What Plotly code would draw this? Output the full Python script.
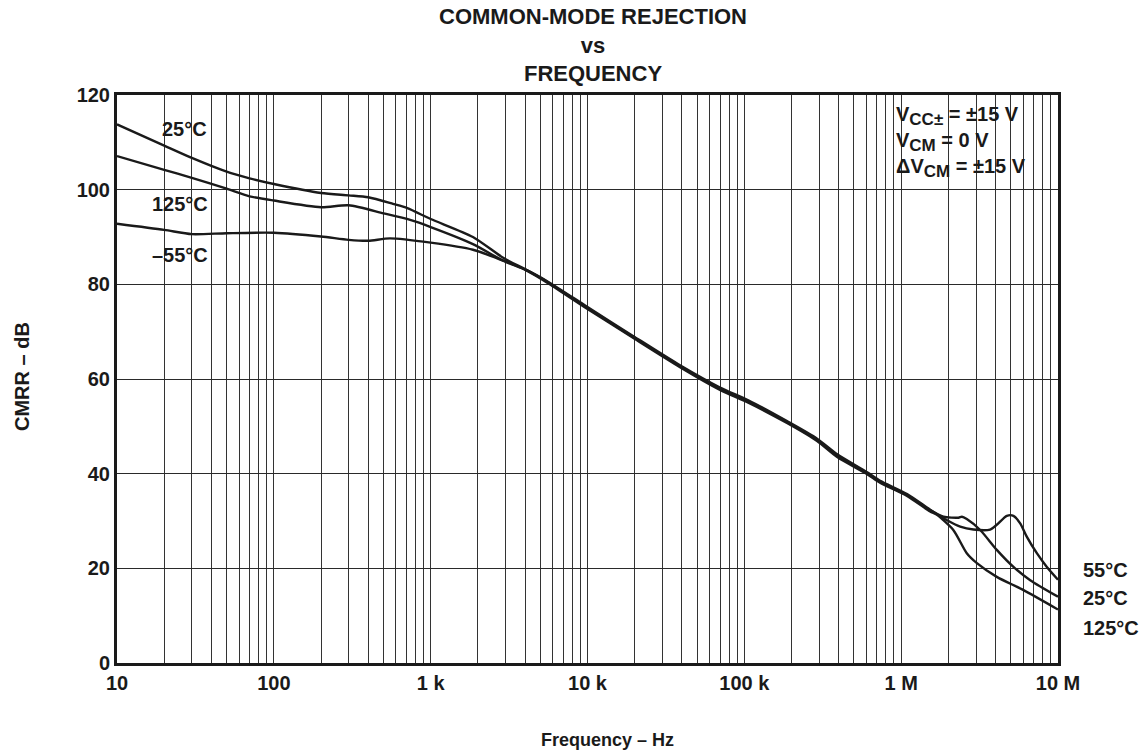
import plotly.graph_objects as go

# ---------------- data ----------------
freq_25 = [10, 20, 30, 50, 70, 100, 200, 300, 400, 575, 710, 1000, 1860, 2900, 4100, 5700,
           10000, 19500, 38900, 70000, 106000, 187000, 291000, 391000, 607000, 734000,
           1090000, 1530000, 1860000, 2320000, 2440000, 2620000, 3190000, 4070000, 5200000,
           6650000, 10000000]
cmrr_25 = [113.8, 109.3, 106.7, 103.8, 102.4, 101.2, 99.3, 98.8, 98.4, 97.0, 96.1, 93.8, 90.0, 85.6, 83.0, 80.3,
           75.0, 68.9, 62.7, 58.0, 55.3, 50.9, 47.1, 43.9, 40.1, 38.3,
           35.5, 32.3, 30.9, 30.7, 30.9, 30.4, 28.1, 23.9, 20.3,
           17.5, 14.0]

freq_125 = [10, 20, 30, 50, 70, 100, 200, 300, 500, 740, 1000, 1860, 2900, 4100, 5700,
            10000, 19500, 38900, 70000, 106000, 187000, 291000, 391000, 607000, 734000,
            1090000, 1530000, 1690000, 2150000, 2620000, 3040000, 4070000, 6030000, 10000000]
cmrr_125 = [107.1, 104.2, 102.5, 100.2, 98.6, 97.7, 96.3, 96.7, 95.0, 93.6, 92.1, 88.5, 85.0, 82.9, 80.1,
            74.8, 68.7, 62.5, 57.7, 55.0, 50.7, 46.9, 43.5, 39.9, 38.1,
            35.3, 32.0, 31.3, 28.1, 23.2, 21.1, 18.2, 15.4, 11.3]

freq_m55 = [10, 20, 30, 50, 100, 200, 300, 400, 550, 1000, 1860, 2900, 4100, 5700,
            10000, 19500, 38900, 70000, 106000, 187000, 291000, 391000, 607000, 734000,
            1090000, 1530000, 1950000, 2380000, 2890000, 3690000, 4070000, 4720000, 5200000,
            5740000, 6320000, 7330000, 8490000, 10000000]
cmrr_m55 = [92.8, 91.5, 90.6, 90.8, 90.9, 90.1, 89.4, 89.2, 89.7, 88.8, 87.3, 85.0, 83.0, 80.4,
            75.2, 69.1, 62.9, 58.2, 55.5, 51.1, 47.4, 44.1, 40.3, 38.5,
            35.7, 32.4, 30.2, 28.8, 28.2, 28.2, 29.2, 31.1, 31.1,
            29.5, 26.7, 23.2, 20.3, 17.6]

decade_vals = [10, 100, 1000, 10000, 100000, 1000000, 10000000]
decade_text = ["10", "100", "1 k", "10 k", "100 k", "1 M", "10 M"]
y_ticks = [0, 20, 40, 60, 80, 100, 120]

title_lines = ["COMMON-MODE REJECTION", "vs", "FREQUENCY"]
x_title = "Frequency – Hz"
y_title = "CMRR – dB"
SUB = '<sub><span style="font-size:17px">{}</span></sub>'
cond_lines = ["V" + SUB.format("CC±") + " = ±15 V",
              "V" + SUB.format("CM") + " = 0 V",
              "ΔV" + SUB.format("CM") + " = ±15 V"]

# ---------------- figure ----------------
FONT = "Liberation Sans, Arial, Helvetica, sans-serif"

# minor gridlines: every 2..9 multiple of each decade
minor_vals = [d * m for d in decade_vals[:-1] for m in range(2, 10)]

fig = go.Figure()
for f, c, name in [(freq_25, cmrr_25, "25°C"), (freq_125, cmrr_125, "125°C"), (freq_m55, cmrr_m55, "–55°C")]:
    fig.add_trace(go.Scatter(x=f, y=c, mode="lines", name=name,
                             line=dict(color="#1a1a1a", width=2.4, shape="spline", smoothing=0.7),
                             showlegend=False, hoverinfo="skip"))

W, H = 1147, 755
L, R, T, B = 117, 89, 95, 92
PW, PH = W - L - R, H - T - B
fig.update_layout(
    width=W, height=H,
    margin=dict(l=L, r=R, t=T, b=B),
    paper_bgcolor="white", plot_bgcolor="white",
    font=dict(family=FONT, color="#1a1a1a"),
    title=dict(text="<b>" + "<br>".join(title_lines) + "</b>",
               x=593 / W, xref="container", xanchor="center",
               y=1 - 24 / H, yref="container", yanchor="middle",
               font=dict(size=22, family=FONT, color="#1a1a1a")),
    xaxis=dict(type="log", range=[1, 7], tickvals=decade_vals, ticktext=decade_text,
               showgrid=True, gridcolor="#333333", gridwidth=1,
               minor=dict(tickvals=minor_vals, showgrid=True, gridcolor="#333333", gridwidth=1, ticks=""),
               showline=True, linecolor="#1a1a1a", linewidth=3, mirror=True,
               ticks="", tickfont=dict(size=20, family=FONT, weight="bold"),
               zeroline=False),
    yaxis=dict(range=[0, 120], tickvals=y_ticks,
               showgrid=True, gridcolor="#2a2a2a", gridwidth=1,
               showline=True, linecolor="#1a1a1a", linewidth=3, mirror=True,
               ticks="", tickfont=dict(size=20, family=FONT, weight="bold"),
               zeroline=False),
)

def px_x(px):
    return (px - L) / PW

def px_y(py):
    return (H - B - py) / PH

# white boxes (between grid and curves) that hide the grid behind labels
boxes = [(880, 1058, 95, 187),   # test conditions
         (150, 230, 113, 146),   # 25°C
         (136, 226, 189, 218),   # 125°C
         (140, 222, 241, 270)]   # -55°C
for x0, x1, y0, y1 in boxes:
    fig.add_shape(type="rect", xref="paper", yref="paper", layer="between",
                  x0=px_x(x0), x1=min(px_x(x1), 1.0), y0=px_y(y1), y1=min(px_y(y0), 1.0),
                  fillcolor="white", line=dict(width=0))

ann = []
ann.append(dict(text="<b>" + "<br>".join(cond_lines) + "</b>", xref="paper", yref="paper",
                x=px_x(894), y=px_y(101), xanchor="left", yanchor="top",
                align="left", showarrow=False, font=dict(size=20, family=FONT)))
# left curve labels
for txt, cx, cy in [("25°C", 184, 128.5), ("125°C", 180, 203.5), ("–55°C", 180, 255)]:
    ann.append(dict(text="<b>" + txt + "</b>", xref="paper", yref="paper",
                    x=px_x(cx), y=px_y(cy), xanchor="center", yanchor="middle",
                    showarrow=False, font=dict(size=20, family=FONT)))
# right curve labels
for txt, cy in [("55°C", 569.5), ("25°C", 598), ("125°C", 628)]:
    ann.append(dict(text="<b>" + txt + "</b>", xref="paper", yref="paper",
                    x=px_x(1081), y=px_y(cy), xanchor="left", yanchor="middle",
                    showarrow=False, font=dict(size=20, family=FONT)))
# axis titles
ann.append(dict(text="<b>" + x_title + "</b>", xref="paper", yref="paper",
                x=px_x(607), y=px_y(740), xanchor="center", yanchor="middle",
                showarrow=False, font=dict(size=18, family=FONT)))
ann.append(dict(text="<b>" + y_title + "</b>", xref="paper", yref="paper",
                x=px_x(22), y=px_y(377), xanchor="center", yanchor="middle",
                textangle=-90, showarrow=False, font=dict(size=20, family=FONT)))
fig.update_layout(annotations=ann)

fig.write_html("out.html", config={"displayModeBar": False},
               post_script="document.body.style.margin='0';")
